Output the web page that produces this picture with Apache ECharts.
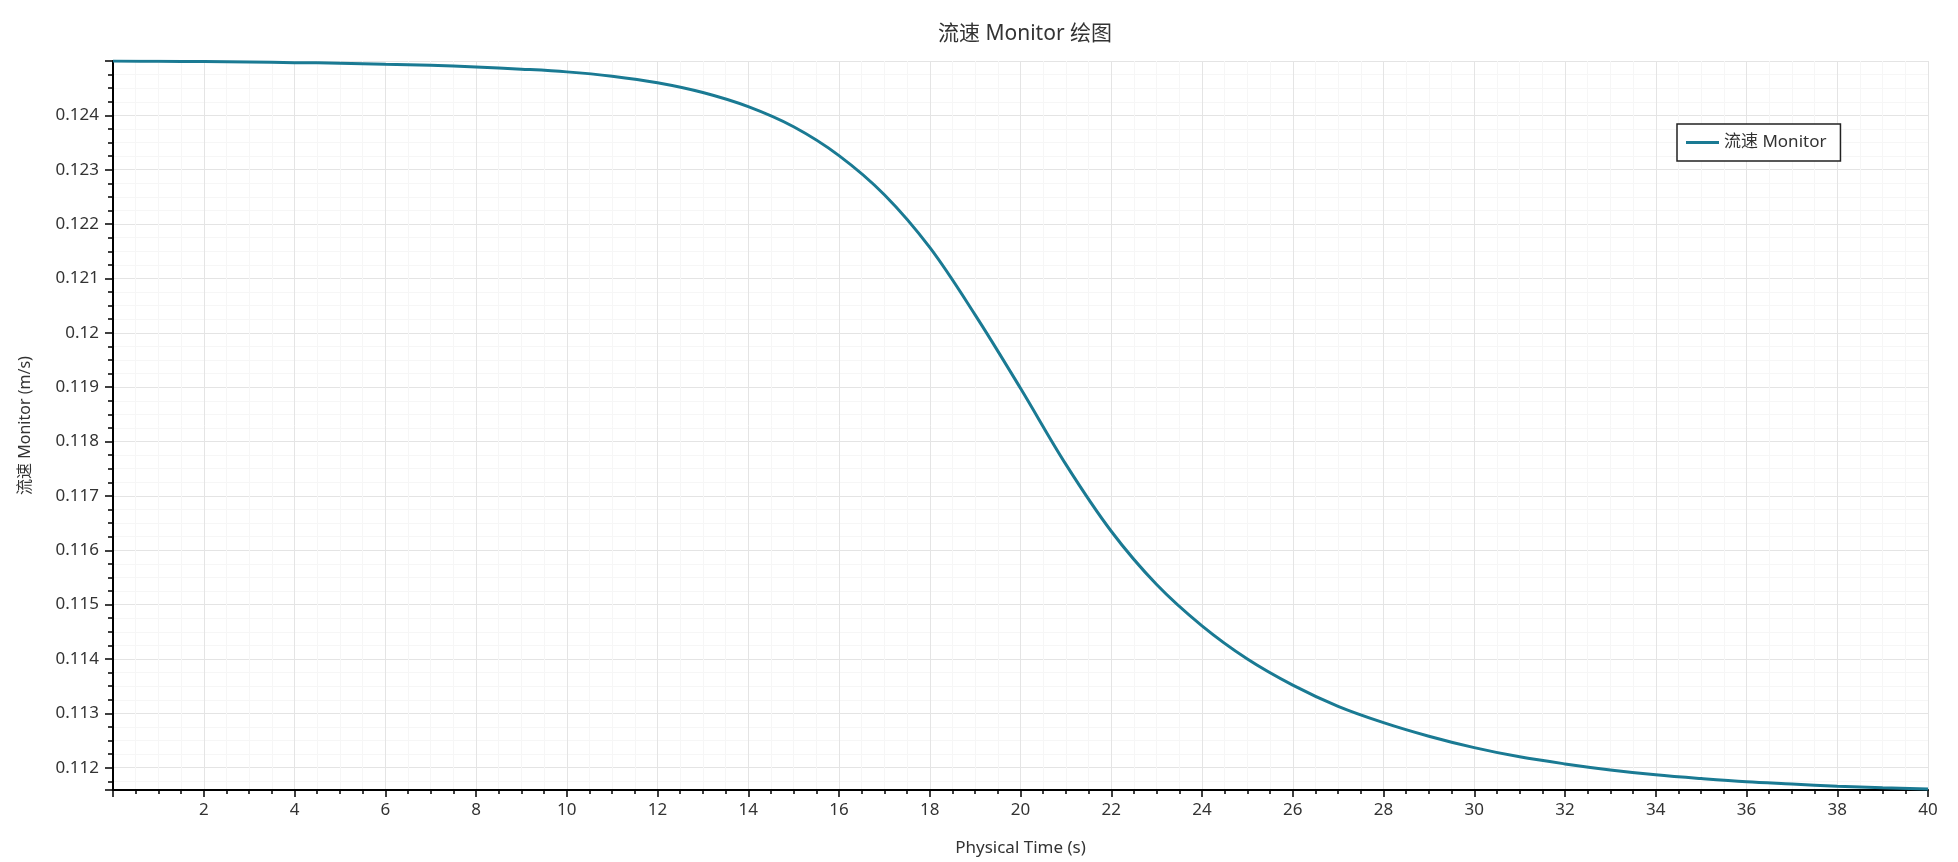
<!DOCTYPE html>
<html>
<head>
<meta charset="utf-8">
<title>流速 Monitor 绘图</title>
<script src="https://cdn.jsdelivr.net/npm/echarts@6/dist/echarts.min.js"></script>
<style>
    html, body { margin: 0; padding: 0; background: #fff; }
    #main { width: 1958px; height: 862px; }
</style>
</head>
<body>
<div id="main"></div>
<script>
    // physical time (s) and monitor values
    var timeVals = [0, 1, 2, 3, 4, 5, 6, 7, 8, 9, 10, 11, 12, 13, 14, 15, 16, 17, 18, 19, 20,
        21, 22, 23, 24, 25, 26, 27, 28, 29, 30, 31, 32, 33, 34, 35, 36, 37, 38, 39, 40];
    var flowVals = [0.125000, 0.124995, 0.124990, 0.124980, 0.124970, 0.124960, 0.124940, 0.124920,
        0.124890, 0.124850, 0.124800, 0.124720, 0.124600, 0.124420, 0.124160, 0.123790, 0.123260,
        0.122540, 0.121570, 0.120330, 0.118980, 0.117580, 0.116350, 0.115370, 0.114610, 0.114000,
        0.113520, 0.113130, 0.112830, 0.112580, 0.112370, 0.112200, 0.112070, 0.111960, 0.111870,
        0.111800, 0.111740, 0.111700, 0.111660, 0.111630, 0.111610];

    var seriesName = '流速 Monitor';
    var fontFam = "'Noto Sans', 'Noto Sans CJK SC', sans-serif";

    var points = [];
    for (var i = 0; i < timeVals.length; i++) {
        points.push([timeVals[i], flowVals[i]]);
    }

    var myChart = echarts.init(document.getElementById('main'));

    var option = {
        backgroundColor: '#ffffff',
        animation: false,
        textStyle: { fontFamily: fontFam },
        title: {
            text: '流速 Monitor 绘图',
            left: 1020,
            textAlign: 'center',
            top: 19,
            textStyle: { fontSize: 21, fontWeight: 'normal', color: '#333', fontFamily: fontFam }
        },
        legend: {
            data: [{ name: seriesName, icon: 'rect' }],
            left: 1677,
            top: 124,
            orient: 'vertical',
            backgroundColor: '#fff',
            borderColor: '#222',
            borderWidth: 1.5,
            borderRadius: 0,
            padding: [10, 14, 10, 9],
            itemWidth: 33,
            itemHeight: 3,
            textStyle: { fontSize: 17, color: '#333', fontFamily: fontFam }
        },
        grid: {
            left: 113,
            right: 30,
            top: 61,
            bottom: 72
        },
        xAxis: {
            type: 'value',
            min: 0,
            max: 40,
            interval: 2,
            name: 'Physical Time (s)',
            nameLocation: 'middle',
            nameGap: 50,
            nameTextStyle: { fontSize: 17, color: '#333' },
            axisLine: { lineStyle: { color: '#000', width: 2 } },
            axisTick: { length: 7, lineStyle: { color: '#000', width: 1.5 } },
            minorTick: { show: true, splitNumber: 4, length: 4, lineStyle: { color: '#000', width: 1.5 } },
            axisLabel: { showMinLabel: false, fontSize: 17, color: '#333', margin: 12 },
            splitLine: { show: true, lineStyle: { color: '#e4e4e4', width: 1 } },
            minorSplitLine: { show: true, lineStyle: { color: '#f6f6f6', width: 1 } }
        },
        yAxis: {
            type: 'value',
            min: 0.11159,
            max: 0.125,
            minInterval: 0.001,
            maxInterval: 0.001,
            name: '流速 Monitor (m/s)',
            nameLocation: 'middle',
            nameGap: 80,
            nameTextStyle: { fontSize: 16, color: '#333' },
            axisLine: { show: true, lineStyle: { color: '#000', width: 2 } },
            axisTick: { show: true, length: 8, lineStyle: { color: '#000', width: 1.5 } },
            minorTick: { show: true, splitNumber: 4, length: 5, lineStyle: { color: '#000', width: 1.5 } },
            axisLabel: {
                showMinLabel: false,
                showMaxLabel: false,
                fontSize: 17,
                color: '#333',
                margin: 14,
                formatter: function (v) {
                    return String(+v.toFixed(3));
                }
            },
            splitLine: { show: true, lineStyle: { color: '#e4e4e4', width: 1 } },
            minorSplitLine: { show: true, lineStyle: { color: '#f6f6f6', width: 1 } }
        },
        series: [
            {
                name: seriesName,
                type: 'line',
                data: points,
                smooth: 0.35,
                symbol: 'none',
                lineStyle: { color: '#1a7a93', width: 3 },
                itemStyle: { color: '#1a7a93' }
            }
        ]
    };

    myChart.setOption(option);
</script>
</body>
</html>
